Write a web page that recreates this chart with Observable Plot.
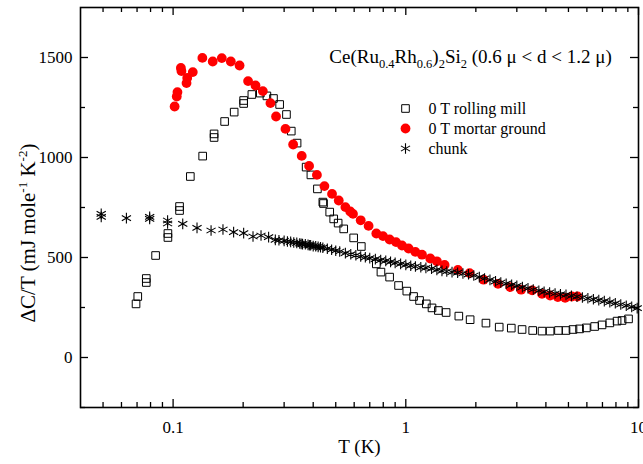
<!DOCTYPE html>
<html><head><meta charset="utf-8">
<script src="https://cdn.jsdelivr.net/npm/d3@7"></script>
<script src="https://cdn.jsdelivr.net/npm/@observablehq/plot@0.6"></script>
<style>body{margin:0;background:#fff;} svg{display:block;}</style>
</head><body><div id="chart"></div>
<script>
// ---- data: rolling mill (open squares)
const rollT = [0.0693,0.0705,0.0767,0.0767,0.0841,0.095,0.095,0.1066,0.1066,0.1186,0.134,0.150,0.150,0.1665,0.183,0.201,0.201,0.218,0.237,0.253,0.27,0.287,0.307,0.322,0.341,0.373,0.391,0.417,0.440,0.443,0.471,0.49,0.512,0.541,0.597,0.644,0.747,0.782,0.852,0.931,1.01,1.08,1.146,1.225,1.296,1.38,1.49,1.69,1.89,2.21,2.52,2.84,3.16,3.51,3.85,4.17,4.53,4.88,5.23,5.58,5.97,6.48,6.97,7.53,8.09,8.5,9.06];
const rollV = [268,305,395,375,510,620,600,755,735,905,1007,1118,1100,1180,1227,1285,1270,1315,1322,1308,1295,1265,1215,1132,1072,952,913,843,777,770,727,693,672,643,598,555,468,427,402,360,332,305,285,268,248,235,225,207,189,172,152,147,140,135,132,132,135,135,140,143,148,155,163,173,182,185,193];
// ---- data: mortar ground (red circles)
const mortT = [0.1015,0.1037,0.1044,0.108,0.1086,0.1142,0.115,0.1215,0.1336,0.148,0.1619,0.177,0.193,0.21,0.226,0.243,0.262,0.277,0.304,0.328,0.357,0.384,0.415,0.447,0.482,0.515,0.55,0.577,0.593,0.640,0.692,0.747,0.798,0.852,0.908,0.963,1.028,1.099,1.174,1.274,1.36,1.468,1.675,1.88,2.16,2.49,2.81,3.13,3.49,3.85,4.17,4.50,4.84,5.17,5.47];
const mortV = [1255,1305,1327,1448,1432,1372,1398,1427,1498,1480,1497,1480,1460,1382,1360,1332,1272,1205,1143,1065,1008,958,913,857,818,785,752,730,718,686,658,620,607,590,577,560,545,528,514,495,481,463,438,422,389,368,352,339,336,318,310,302,298,305,305];
// ---- data: chunk (asterisks)
const chunkT = [0.0491,0.0491,0.063,0.0793,0.0793,0.0947,0.0947,0.110,0.1267,0.1456,0.1638,0.182,0.201,0.2205,0.2387,0.2573,0.275,0.285,0.30,0.31,0.32,0.33,0.34,0.35,0.355,0.36,0.37,0.38,0.385,0.39,0.40,0.41,0.42,0.43,0.44,0.46,0.48,0.50,0.52,0.55,0.58,0.61,0.64,0.67,0.70,0.74,0.78,0.82,0.86,0.90,0.95,1.00,1.05,1.10,1.16,1.22,1.29,1.36,1.43,1.50,1.58,1.67,1.76,1.86,1.96,2.07,2.18,2.30,2.43,2.56,2.70,2.85,3.00,3.17,3.35,3.53,3.73,3.93,4.15,4.38,4.62,4.88,5.15,5.44,5.74,6.06,6.40,6.75,7.13,7.53,7.95,8.39,8.86,9.35,9.87];
const chunkV = [718,703,697,703,693,685,670,668,648,635,640,627,622,605,610,602,588,586,583,580,578,575,573,570,568,567,566,563,561,561,557,556,553,551,549,544,539,534,530,522,516,511,505,501,497,492,487,483,478,473,468,463,459,455,451,448,444,438,433,430,427,424,420,416,410,402,395,388,381,375,369,363,358,352,346,340,334,328,325,320,316,313,308,304,300,296,291,287,282,277,271,265,259,253,247];

const seriesNames = ["0 T rolling mill", "0 T mortar ground", "chunk"];
const xTicks = [0.1, 1, 10];
const xTickLabels = ["0.1", "1", "10"];
const xMinor = [0.05,0.06,0.07,0.08,0.09,0.2,0.3,0.4,0.5,0.6,0.7,0.8,0.9,2,3,4,5,6,7,8,9];
const yTicks = [0, 500, 1000, 1500];
const yTickLabels = ["0", "500", "1000", "1500"];
const yMinor = [-250, 250, 750, 1250];
const xLabel = "T (K)";
const yLabelParts = [["ΔC/T (mJ mole"], ["-1", "sup"], [" K"], ["-2", "sup"], [")"]];
const titleParts = [["Ce(Ru"], ["0.4", "sub"], ["Rh"], ["0.6", "sub"], [")"], ["2", "sub"], ["Si"], ["2", "sub"], [" (0.6 μ < d < 1.2 μ)"]];

// ---- layout
const W = 643, H = 464, mL = 80, mR = 5, mT = 7, mB = 57;
const xDom = [0.04, 10], yDom = [-250, 1750];
const unitsPerPx = (yDom[1] - yDom[0]) / (H - mT - mB);
const decPerPx = Math.log10(xDom[1] / xDom[0]) / (W - mL - mR);
const up = px => px * unitsPerPx;
const mul = px => Math.pow(10, px * decPerPx);

const toRows = (T, V) => T.map((t, i) => ({t, v: V[i]}));
const roll = toRows(rollT, rollV), mort = toRows(mortT, mortV), chunk = toRows(chunkT, chunkV);

const tickStyle = {stroke: "black", strokeWidth: 1.3};
const styles = [
  {symbol: "square", r: 4.3, stroke: "black", fill: "none", strokeWidth: 1},
  {symbol: "circle", r: 4.9, fill: "#ff0000", stroke: "none"},
  {symbol: "asterisk", r: 5, stroke: "black", fill: "none", strokeWidth: 1.1}
];

const titlePlain = titleParts.map(p => p[0]).join("");
const yLabelPlain = yLabelParts.map(p => p[0]).join("");

const legendMarks = seriesNames.flatMap((name, i) => [
  Plot.dot([name], {frameAnchor: "top-left", dx: 325, dy: 101 + 20 * i, ...styles[i]}),
  Plot.text([name], {frameAnchor: "top-left", dx: 348, dy: 101 + 20 * i, text: d => d, textAnchor: "start", lineAnchor: "middle", fontSize: 16, fill: "black"})
]);

const chart = Plot.plot({
  width: W, height: H, marginLeft: mL, marginRight: mR, marginTop: mT, marginBottom: mB,
  x: {type: "log", domain: xDom},
  y: {domain: yDom},
  style: {fontFamily: "'Liberation Serif', 'Times New Roman', serif", background: "white", color: "black"},
  marks: [
    Plot.ruleX(xTicks, {x: d => d, y1: yDom[0], y2: yDom[0] + up(8), ...tickStyle}),
    Plot.ruleX(xMinor, {x: d => d, y1: yDom[0], y2: yDom[0] + up(5), ...tickStyle}),
    Plot.ruleX(xTicks, {x: d => d, y1: yDom[1], y2: yDom[1] - up(8), ...tickStyle}),
    Plot.ruleX(xMinor, {x: d => d, y1: yDom[1], y2: yDom[1] - up(5), ...tickStyle}),
    Plot.ruleY(yTicks, {y: d => d, x1: xDom[0], x2: xDom[0] * mul(8), ...tickStyle}),
    Plot.ruleY(yMinor, {y: d => d, x1: xDom[0], x2: xDom[0] * mul(5), ...tickStyle}),
    Plot.ruleY(yTicks, {y: d => d, x1: xDom[1], x2: xDom[1] / mul(8), ...tickStyle}),
    Plot.ruleY(yMinor, {y: d => d, x1: xDom[1], x2: xDom[1] / mul(5), ...tickStyle}),
    Plot.axisX(xTicks, {tickSize: 0, tickPadding: 13, tickFormat: d => xTickLabels[xTicks.indexOf(d)], fontSize: 17, label: null}),
    Plot.axisY(yTicks, {tickSize: 0, tickPadding: 8, tickFormat: d => yTickLabels[yTicks.indexOf(d)], fontSize: 17, label: null}),
    Plot.dot(roll, {x: "t", y: "v", ...styles[0]}),
    Plot.dot(mort, {x: "t", y: "v", ...styles[1]}),
    Plot.dot(chunk, {x: "t", y: "v", ...styles[2]}),
    Plot.frame({stroke: "black", strokeWidth: 1.6}),
    Plot.text([xLabel], {frameAnchor: "bottom", dy: 39, text: d => d, fontSize: 19, lineAnchor: "middle", fill: "black"}),
    Plot.text([yLabelPlain], {frameAnchor: "left", dx: -49, dy: 18, rotate: -90, text: d => d, fontSize: 21, lineAnchor: "middle", fill: "black"}),
    Plot.text([titlePlain], {frameAnchor: "top", dx: 111, dy: 49, text: d => d, fontSize: 19, lineAnchor: "middle", textAnchor: "middle", fill: "black"}),
    ...legendMarks
  ]
});

function richify(t, parts, smallSize, subShift, supShift) {
  while (t.firstChild) t.removeChild(t.firstChild);
  let cur = 0;
  parts.forEach(([txt, kind]) => {
    const ts = document.createElementNS("http://www.w3.org/2000/svg", "tspan");
    const target = kind === "sub" ? subShift : kind === "sup" ? -supShift : 0;
    if (target !== cur) ts.setAttribute("dy", target - cur);
    cur = target;
    if (kind) ts.setAttribute("font-size", smallSize);
    ts.textContent = txt;
    t.appendChild(ts);
  });
}
const svg = chart.tagName.toLowerCase() === "svg" ? chart : chart.querySelector("svg");
const findText = plain => [...svg.querySelectorAll("text")].find(t => t.textContent === plain);
const titleEl = findText(titlePlain);
const yLabelEl = findText(yLabelPlain);
richify(titleEl, titleParts, 12.5, 5, 0);
richify(yLabelEl, yLabelParts, 13, 0, 8);
document.getElementById("chart").appendChild(chart);

// centre the rotated y-axis title where the reference has it
(function placeYLabel() {
  const svgRect = svg.getBoundingClientRect();
  const r = yLabelEl.getBoundingClientRect();
  const cx = r.left + r.width / 2 - svgRect.left;
  const cy = r.top + r.height / 2 - svgRect.top;
  const ddx = 27 - cx, ddy = 233 - cy;
  yLabelEl.setAttribute("transform", `translate(${ddx},${ddy}) ` + (yLabelEl.getAttribute("transform") || ""));
})();
</script>
</body></html>
